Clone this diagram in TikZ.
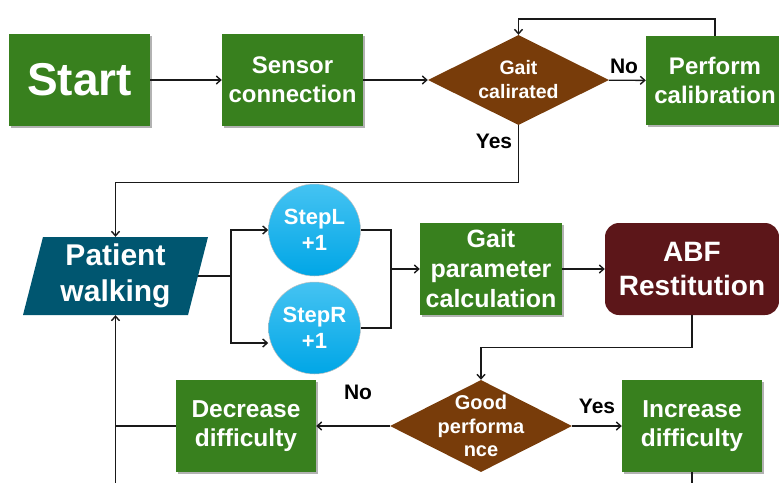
\documentclass[tikz,border=0pt]{standalone}
\usepackage{fontspec}
\setmainfont{Liberation Sans}
\usetikzlibrary{shapes.geometric,arrows.meta,shadows}
\definecolor{gbox}{HTML}{38801E}
\definecolor{brn}{HTML}{783C0A}
\definecolor{tealbox}{HTML}{005670}
\definecolor{dred}{HTML}{5C1619}
\definecolor{cyanT}{HTML}{45C3F2}
\definecolor{cyanB}{HTML}{00A6E6}
\newcommand{\fsz}[2]{\fontsize{#1}{#2}\selectfont\bfseries}
\begin{document}
\begin{tikzpicture}[x=1pt,y=-1pt,
  gbx/.style={fill=gbox, text=white, align=center, inner sep=0pt,
    drop shadow={shadow xshift=1.5pt, shadow yshift=-1.5pt, opacity=0.3, fill=black}},
  dia/.style={diamond, fill=brn, inner sep=0pt},
  wtxt/.style={text=white, align=center, inner sep=0pt},
  circ/.style={circle, minimum size=92pt, inner sep=0pt, top color=cyanT, bottom color=cyanB,
    draw=black!25, line width=0.5pt, text=white, align=center},
  conn/.style={line width=1.4pt, draw=black!90},
  arr/.style={conn, -{Straight Barb[length=4.5pt,width=8pt]}},
  lbl/.style={font=\fsz{21}{25}, text=black, inner sep=0pt}]
\useasboundingbox (0,0) rectangle (779,482);

% top row
\node[gbx, minimum width=141pt, minimum height=92pt, font=\fsz{46}{52}] (start) at (79.5,80) {Start};
\node[gbx, minimum width=141pt, minimum height=92pt, font=\fsz{24}{29}] (sensor) at (292.5,80) {Sensor\\connection};
\node[dia, minimum width=181pt, minimum height=90pt] (d1) at (518.5,80) {};
\node[wtxt, font=\fsz{19.5}{24}] (d1t) at (d1) {Gait\\calirated};
\node[gbx, minimum width=138pt, minimum height=89pt, font=\fsz{24}{29}] (perf) at (715,80.5) {Perform\\calibration};

% patient walking
\fill[tealbox] (43,237) -- (208,237) -- (188,315) -- (23,315) -- cycle;
\node[wtxt, minimum width=165pt, minimum height=78pt, font=\fsz{30}{36}] (pw) at (115.5,276) {Patient\\walking};

% steps
\node[circ, font=\fsz{22}{26.5}] (sl) at (314.5,230) {StepL\\+1};
\node[circ, font=\fsz{22}{26.5}] (sr) at (314.5,328) {StepR\\+1};

\node[gbx, minimum width=142pt, minimum height=92pt, font=\fsz{25}{30}] (gp) at (491,269) {Gait\\parameter\\calculation};
\node[fill=dred, rounded corners=14pt, wtxt, minimum width=174pt, minimum height=92pt, font=\fsz{28}{34}] (abf) at (692,269) {ABF\\Restitution};

% bottom row
\node[dia, minimum width=182pt, minimum height=92pt] (d2) at (481,426) {};
\node[wtxt, font=\fsz{20}{23.5}] (d2t) at (d2) {Good\\performa\\nce};
\node[gbx, minimum width=140pt, minimum height=92pt, font=\fsz{24.5}{29.5}] (inc) at (692,426) {Increase\\difficulty};
\node[gbx, minimum width=140pt, minimum height=92pt, font=\fsz{24.5}{29.5}] (dec) at (246,426) {Decrease\\difficulty};

% labels
\node[lbl] (lno1) at (624,66) {No};
\node[lbl] (lyes1) at (494,141) {Yes};
\node[lbl] (lno2) at (358,392) {No};
\node[lbl] (lyes2) at (597,406) {Yes};

% connectors
\draw[arr] (start) -- (sensor);
\draw[arr] (sensor) -- (d1);
\draw[arr] (d1) -- (perf);
\draw[arr] (perf.north) -- ++(0,-17) -| (d1.north);
\draw[arr] (d1.south) -- ++(0,57) -| (pw.north);
\coordinate (split) at (231,276);
\draw[conn] (pw.east) -- (split);
\draw[arr] (split) |- (sl.west);
\draw[arr] (split) |- ([yshift=-15pt]sr.west);
\coordinate (join) at (391,269);
\draw[conn] (sl.east) -| (join);
\draw[conn] (sr.east) -| (join);
\draw[arr] (join) -- (gp.west);
\draw[arr] (gp) -- (abf);
\draw[arr] (abf.south) -- ++(0,32) -| (d2.north);
\draw[arr] (d2) -- (inc);
\draw[arr] (d2) -- (dec);
\coordinate (bl) at (115.5,486);
\draw[arr] (bl) -- (pw.south);
\draw[conn] (dec.west) -- (dec.west -| bl);
\draw[conn] (inc.south) -- (inc.south |- bl);
\end{tikzpicture}
\end{document}
